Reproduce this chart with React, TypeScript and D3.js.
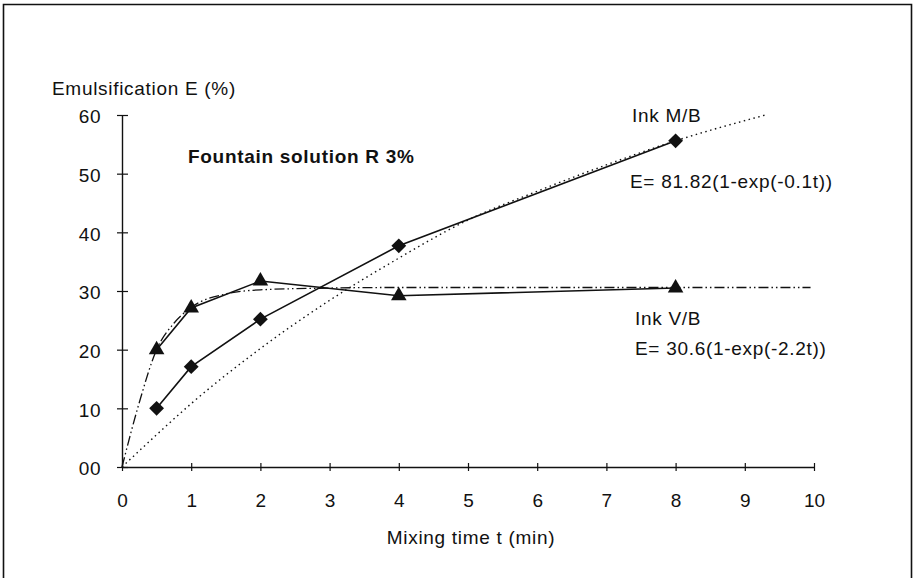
import { useEffect, useRef } from "react";
import * as d3 from "d3";

// measured points
const times = [0.5, 1, 2, 4, 8];
const inkMB = [10.0, 17.1, 25.2, 37.7, 55.6];
const inkVB = [20.0, 27.1, 31.7, 29.2, 30.5];

// fitted curves
const fitMBTime = [0, 0.5, 1, 2, 3, 4, 5, 6, 7, 8, 9.3];
const fitMBValue = [0, 5.5, 10.8, 20.2, 28.4, 35.6, 42.1, 47.0, 51.5, 55.6, 60.0];
const fitVBTime = [0, 0.25, 0.5, 0.75, 1, 1.5, 2, 3, 4, 6, 8, 9.95];
const fitVBValue = [0, 11, 20, 24.5, 27.2, 29.5, 30.2, 30.5, 30.6, 30.6, 30.6, 30.6];

const xTicks = [0, 1, 2, 3, 4, 5, 6, 7, 8, 9, 10];
const yTicks = [0, 10, 20, 30, 40, 50, 60];
const yTickLabels = ["00", "10", "20", "30", "40", "50", "60"];

const FONT = "'Liberation Sans', Arial, Helvetica, sans-serif";
const INK = "#111";
const SPACING = 0.7;

export default function App() {
  const ref = useRef<SVGSVGElement>(null);

  useEffect(() => {
    const svg = d3.select(ref.current);
    svg.selectAll("*").remove();

    const width = 916;
    const height = 578;
    svg.attr("width", width).attr("height", height);

    svg.append("rect").attr("width", width).attr("height", height).attr("fill", "#fff");

    // frame
    svg.append("path")
      .attr("d", `M3.5,${height + 2} V4.5 H911.5 V${height + 2}`)
      .attr("fill", "none")
      .attr("stroke", INK)
      .attr("stroke-width", 1.6);

    const x = d3.scaleLinear().domain([0, 10]).range([122, 814]);
    const y = d3.scaleLinear().domain([0, 60]).range([467, 115]);

    const xAxis = svg.append("g")
      .attr("transform", `translate(0,${y(0)})`)
      .call(d3.axisBottom(x).tickValues(xTicks).tickSizeInner(4).tickSizeOuter(0).tickPadding(23));
    xAxis.select(".domain").attr("stroke", INK).attr("stroke-width", 1.4);
    xAxis.selectAll(".tick line").attr("y1", -4).attr("stroke", INK).attr("stroke-width", 1.2);
    xAxis.selectAll("text").attr("font-family", FONT).attr("font-size", 19).attr("fill", INK);

    const yAxis = svg.append("g")
      .attr("transform", `translate(${x(0)},0)`)
      .call(d3.axisLeft(y).tickValues(yTicks).tickSizeInner(5).tickSizeOuter(0).tickPadding(16)
        .tickFormat((d, i) => yTickLabels[i]));
    yAxis.select(".domain").attr("stroke", INK).attr("stroke-width", 1.4);
    yAxis.selectAll(".tick line").attr("x1", 6).attr("stroke", INK).attr("stroke-width", 1.2);
    yAxis.selectAll("text").attr("font-family", FONT).attr("font-size", 19).attr("fill", INK)
      .attr("dy", "0.42em").attr("letter-spacing", 0.5);

    const straight = d3.line<number>().x((d, i) => x(times[i])).y(d => y(d));
    const smooth = (ts: number[]) => d3.line<number>().x((d, i) => x(ts[i])).y(d => y(d)).curve(d3.curveMonotoneX);

    svg.append("path")
      .attr("d", smooth(fitMBTime)(fitMBValue))
      .attr("fill", "none").attr("stroke", INK).attr("stroke-width", 1.4)
      .attr("stroke-dasharray", "1.5 3.5");

    svg.append("path")
      .attr("d", smooth(fitVBTime)(fitVBValue))
      .attr("fill", "none").attr("stroke", INK).attr("stroke-width", 1.3)
      .attr("stroke-dasharray", "10 3 1.5 3 1.5 3");

    svg.append("path")
      .attr("d", straight(inkMB))
      .attr("fill", "none").attr("stroke", INK).attr("stroke-width", 1.6);

    svg.append("path")
      .attr("d", straight(inkVB))
      .attr("fill", "none").attr("stroke", INK).attr("stroke-width", 1.6);

    svg.append("g").selectAll("path")
      .data(inkMB)
      .join("path")
      .attr("transform", (d, i) => `translate(${x(times[i])},${y(d)}) rotate(45)`)
      .attr("d", d3.symbol(d3.symbolSquare, 110)())
      .attr("fill", INK);

    svg.append("g").selectAll("path")
      .data(inkVB)
      .join("path")
      .attr("transform", (d, i) => `translate(${x(times[i])},${y(d)})`)
      .attr("d", d3.symbol(d3.symbolTriangle, 105)())
      .attr("fill", INK);

    const label = (tx: number, ty: number, s: string, bold = false) =>
      svg.append("text")
        .attr("x", tx).attr("y", ty)
        .attr("font-family", FONT)
        .attr("font-size", 19)
        .attr("font-weight", bold ? "bold" : "normal")
        .attr("letter-spacing", SPACING)
        .attr("fill", INK)
        .text(s);

    label(52, 95, "Emulsification E (%)");
    label(188, 163, "Fountain solution R 3%", true);
    label(632, 122, "Ink M/B");
    label(630, 188, "E= 81.82(1-exp(-0.1t))");
    label(635, 325, "Ink V/B");
    label(635, 355, "E= 30.6(1-exp(-2.2t))");

    svg.append("text")
      .attr("x", x(5) + 3).attr("y", 544)
      .attr("text-anchor", "middle")
      .attr("font-family", FONT).attr("font-size", 19).attr("fill", INK)
      .attr("letter-spacing", SPACING)
      .text("Mixing time t (min)");
  }, []);

  return <svg ref={ref} style={{ position: "absolute", left: 0, top: 0 }}></svg>;
}
